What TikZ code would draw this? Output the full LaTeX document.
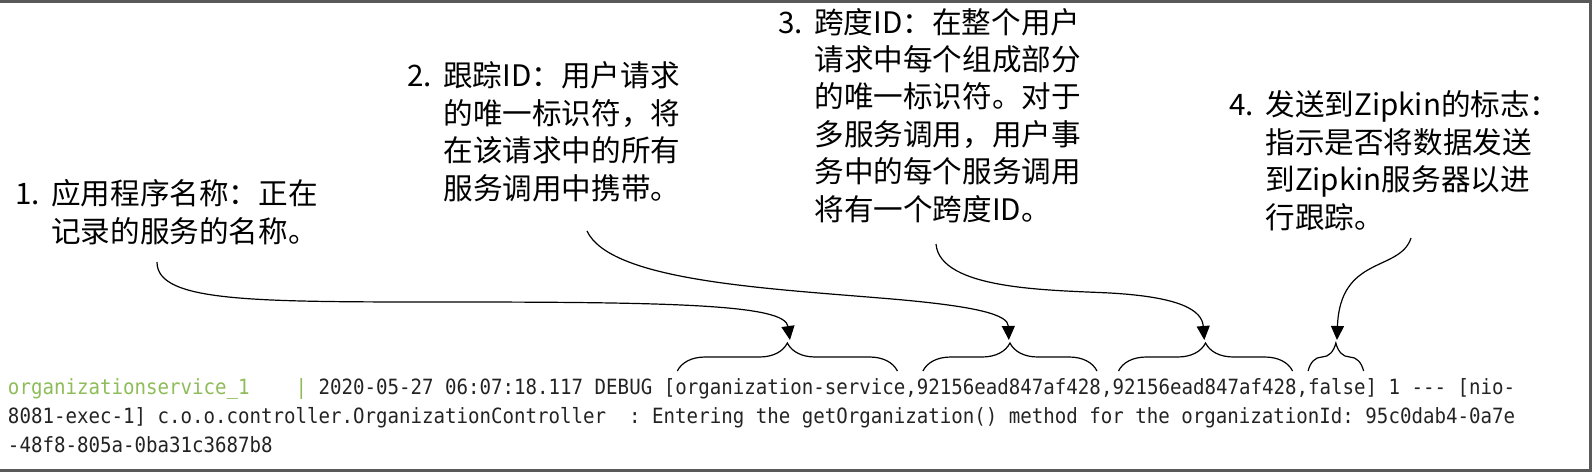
\documentclass[tikz,border=0pt]{standalone}
\usepackage{fontspec}
\setmonofont[FakeStretch=0.91]{DejaVu Sans Mono}
\newfontfamily\cjk{Noto Sans CJK SC}
\usetikzlibrary{arrows.meta,decorations.pathreplacing}
\definecolor{svcgreen}{RGB}{142,188,88}
\definecolor{logink}{RGB}{35,35,35}
\newcommand{\notenum}[1]{\llap{\makebox[18pt][l]{#1.}}}
\tikzset{
  log/.style={font=\ttfamily\fontsize{10.5pt}{14.5pt}\selectfont, text=logink, inner sep=0pt, outer sep=0pt, anchor=base west},
  note/.style={font=\cjk\fontsize{14.8pt}{18.7pt}\selectfont, align=left, inner sep=0pt, anchor=base west},
  bracket/.style={decorate, decoration={brace, amplitude=14pt}, line width=0.6pt},
  pointer/.style={line width=0.6pt, shorten >=1.5pt, -{Triangle[length=7pt,width=6.5pt]}},
  frame/.style={line width=1.5pt, gray!70!black}
}
\begin{document}
\begin{tikzpicture}[x=0.5pt,y=-0.5pt]
	\useasboundingbox (0,0) rectangle (1592,472);
	\draw[frame] (0,1.5) -- (1590.5,1.5) -- (1590.5,470.5) -- (0,470.5);

	% base anchor of a multi-line note sits on its last line
	\node[note] (note1) at (51,242) {\notenum{1}应用程序名称：正在\\记录的服务的名称。};
	\node[note] (note2) at (443,199) {\notenum{2}跟踪ID：用户请求\\的唯一标识符，将\\在该请求中的所有\\服务调用中携带。};
	\node[note] (note3) at (814,220) {\notenum{3}跨度ID：在整个用户\\请求中每个组成部分\\的唯一标识符。对于\\多服务调用，用户事\\务中的每个服务调用\\将有一个跨度ID。};
	\node[note] (note4) at (1265,228) {\notenum{4}发送到Zipkin的标志：\\指示是否将数据发送\\到Zipkin服务器以进\\行跟踪。};

	\node[log] (head) at (8,394) {\textcolor{svcgreen}{organizationservice\_1\ \ \ \ |} 2020-05-27 06:07:18.117 DEBUG [};
	\node[log] (appname) at (head.base east) {organization-service};
	\node[log] (sep1) at (appname.base east) {,};
	\node[log] (traceid) at (sep1.base east) {92156ead847af428};
	\node[log] (sep2) at (traceid.base east) {,};
	\node[log] (spanid) at (sep2.base east) {92156ead847af428};
	\node[log] (sep3) at (spanid.base east) {,};
	\node[log] (export) at (sep3.base east) {false};
	\node[log] (tail) at (export.base east) {] 1 --- [nio-};
	\node[log] (line2) at (8,423) {8081-exec-1] c.o.o.controller.OrganizationController\ \ : Entering the getOrganization() method for the organizationId: 95c0dab4-0a7e};
	\node[log] (line3) at (8,452) {-48f8-805a-0ba31c3687b8};

	\draw[bracket] ([xshift=1pt,yshift=11.5pt]appname.base west) -- ([xshift=-4pt,yshift=11.5pt]appname.base east);
	\draw[bracket] ([xshift=3pt,yshift=11.5pt]traceid.base west) -- ([xshift=-2pt,yshift=11.5pt]traceid.base east);
	\draw[bracket] ([xshift=3pt,yshift=11.5pt]spanid.base west) -- ([xshift=-2pt,yshift=11.5pt]spanid.base east);
	\draw[bracket] ([xshift=0pt,yshift=11.5pt]export.base west) -- ([xshift=-1pt,yshift=11.5pt]export.base east);

	\coordinate (tip1) at ([yshift=25.5pt]appname.base);
	\coordinate (tip2) at ([yshift=25.5pt]traceid.base);
	\coordinate (tip3) at ([yshift=25.5pt]spanid.base);
	\coordinate (tip4) at ([yshift=25.5pt]export.base);
	\coordinate (s1) at (157,262);
	\coordinate (s2) at (587,231);
	\coordinate (s3) at (936,244);
	\coordinate (s4) at (1411,238);

	\draw[pointer] (s1) .. controls (157,302) and (250,302) .. (450,302) .. controls (680,302) and (785,305) .. (tip1);
	\draw[pointer] (s2) .. controls (610,280) and (760,288) .. (880,298) .. controls (980,306) and (1008,315) .. (tip2);
	\draw[pointer] (s3) .. controls (940,290) and (1050,290) .. (1110,293) .. controls (1180,297) and (1202,310) .. (tip3);
	\draw[pointer] (s4) .. controls (1400,272) and (1340,255) .. (tip4);
\end{tikzpicture}
\end{document}
